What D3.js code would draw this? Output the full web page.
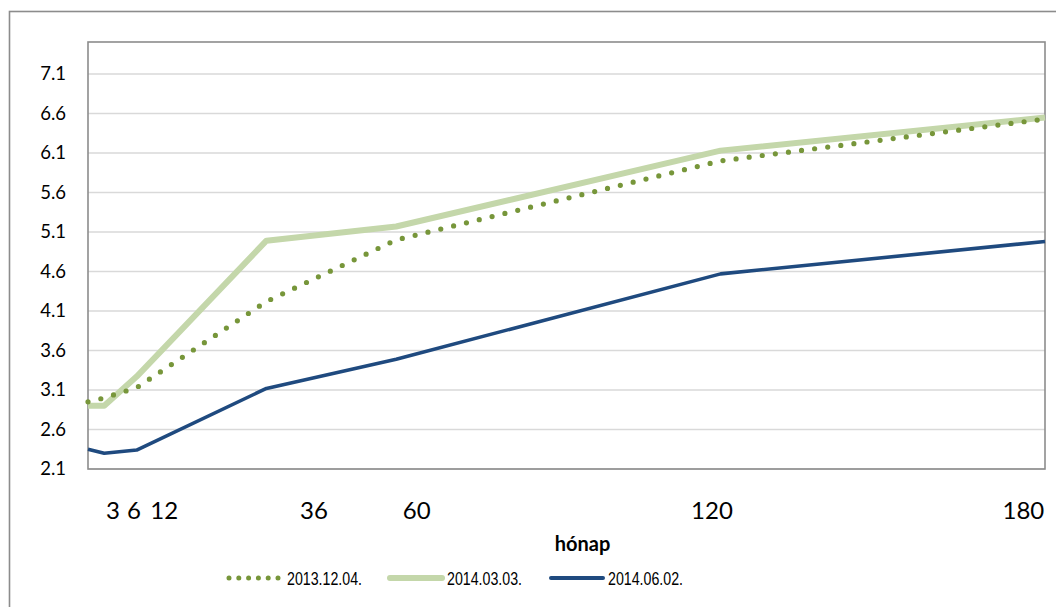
<!DOCTYPE html>
<html>
<head>
<meta charset="utf-8">
<script src="https://cdn.jsdelivr.net/npm/d3@7"></script>
<style>
  html, body { margin: 0; padding: 0; background: #fff; }
  svg { display: block; }
</style>
</head>
<body>
<svg id="chart" width="1056" height="607"></svg>
<script>
// Maturities in months
const months = [3, 6, 12, 36, 60, 120, 180];

// Yield curves by date
const series2013_12_04 = [2.95, 3.00, 3.13, 4.22, 5.00, 6.00, 6.53];
const series2014_03_03 = [2.90, 2.90, 3.27, 4.99, 5.17, 6.13, 6.55];
const series2014_06_02 = [2.35, 2.30, 2.34, 3.12, 3.49, 4.57, 4.98];

const seriesNames = ["2013.12.04.", "2014.03.03.", "2014.06.02."];

// Axis labels
const yTicks = [2.1, 2.6, 3.1, 3.6, 4.1, 4.6, 5.1, 5.6, 6.1, 6.6, 7.1];
const xTickLabels = ["3", "6", "12", "36", "60", "120", "180"];
const xTickAnchors = [7.6, 11.5, 17.1, 44.8, 63.8, 118.4, 176.0];
const xTitle = "hónap";

const svg = d3.select("#chart");

const plot = { left: 88, right: 1045, top: 42, bottom: 469 };

const x = d3.scaleLinear().domain([3, 180]).range([plot.left, plot.right]);
const y = d3.scaleLinear().domain([2.1, 7.505]).range([plot.bottom, plot.top]);

// Outer chart frame
svg.append("rect")
  .attr("x", 9.5).attr("y", 11.5)
  .attr("width", 1060).attr("height", 610)
  .attr("fill", "none")
  .attr("stroke", "#8c8c8c")
  .attr("stroke-width", 1.6);

// Horizontal gridlines
svg.append("g")
  .selectAll("line")
  .data(yTicks)
  .join("line")
  .attr("x1", plot.left).attr("x2", plot.right)
  .attr("y1", d => y(d)).attr("y2", d => y(d))
  .attr("stroke", "#d9d9d9")
  .attr("stroke-width", 1.6);

// Plot area frame
svg.append("rect")
  .attr("x", plot.left).attr("y", plot.top)
  .attr("width", plot.right - plot.left)
  .attr("height", plot.bottom - plot.top)
  .attr("fill", "none")
  .attr("stroke", "#8c8c8c")
  .attr("stroke-width", 1.6);

// Y axis labels
const yAxis = d3.axisLeft(y)
  .tickValues(yTicks)
  .tickFormat(d3.format(".1f"))
  .tickSize(0)
  .tickPadding(22);
const gy = svg.append("g")
  .attr("transform", `translate(${plot.left},0)`)
  .call(yAxis);
gy.select(".domain").remove();
gy.selectAll("text")
  .attr("font-family", "Lato, 'Open Sans', sans-serif")
  .attr("font-size", 18.5)
  .attr("fill", "#000");

// X axis labels
svg.append("g")
  .selectAll("text")
  .data(xTickLabels)
  .join("text")
  .attr("x", (d, i) => x(xTickAnchors[i]))
  .attr("y", 519)
  .attr("text-anchor", "middle")
  .attr("font-family", "Lato, 'Open Sans', sans-serif")
  .attr("font-size", 24)
  .attr("fill", "#000")
  .text(d => d);

svg.append("text")
  .attr("x", (plot.left + plot.right) / 2 + 16)
  .attr("y", 551)
  .attr("text-anchor", "middle")
  .attr("font-family", "Lato, 'Open Sans', sans-serif")
  .attr("font-weight", "bold")
  .attr("font-size", 20)
  .attr("fill", "#000")
  .text(xTitle);

// Lines
const line = d3.line()
  .x(d => x(d[0]))
  .y(d => y(d[1]));

const styles = [
  { color: "#77963a", width: 5.2, dash: "0 13.2", cap: "round", legendDash: "0 9.8", legendWidth: 5 },
  { color: "#c4d7aa", width: 6, dash: null, cap: "butt", legendDash: null, legendWidth: 6 },
  { color: "#1f4a7f", width: 3.6, dash: null, cap: "butt", legendDash: null, legendWidth: 4 }
];

const allSeries = [series2013_12_04, series2014_03_03, series2014_06_02];
const drawOrder = [1, 0, 2];

const gLines = svg.append("g");
drawOrder.forEach(i => {
  const pts = months.map((m, j) => [m, allSeries[i][j]]);
  gLines.append("path")
    .attr("d", line(pts))
    .attr("fill", "none")
    .attr("stroke", styles[i].color)
    .attr("stroke-width", styles[i].width)
    .attr("stroke-linecap", styles[i].cap)
    .attr("stroke-linejoin", "round")
    .attr("stroke-dasharray", styles[i].dash);
});

// Legend (condensed label text)
const legendY = 578;
const legendItems = [
  { x1: 229, x2: 280, tx: 287 },
  { x1: 390, x2: 442, tx: 447 },
  { x1: 551, x2: 603, tx: 608 }
];
const gLegend = svg.append("g");
seriesNames.forEach((name, i) => {
  const it = legendItems[i];
  gLegend.append("line")
    .attr("x1", it.x1).attr("x2", it.x2)
    .attr("y1", legendY).attr("y2", legendY)
    .attr("stroke", styles[i].color)
    .attr("stroke-width", styles[i].legendWidth)
    .attr("stroke-linecap", "round")
    .attr("stroke-dasharray", styles[i].legendDash);
  gLegend.append("text")
    .attr("x", it.tx)
    .attr("y", legendY + 6.5)
    .attr("font-family", "'Liberation Sans', Arial, sans-serif")
    .attr("font-size", 17.5)
    .attr("textLength", 75)
    .attr("lengthAdjust", "spacingAndGlyphs")
    .attr("fill", "#000")
    .text(name);
});
</script>
</body>
</html>
